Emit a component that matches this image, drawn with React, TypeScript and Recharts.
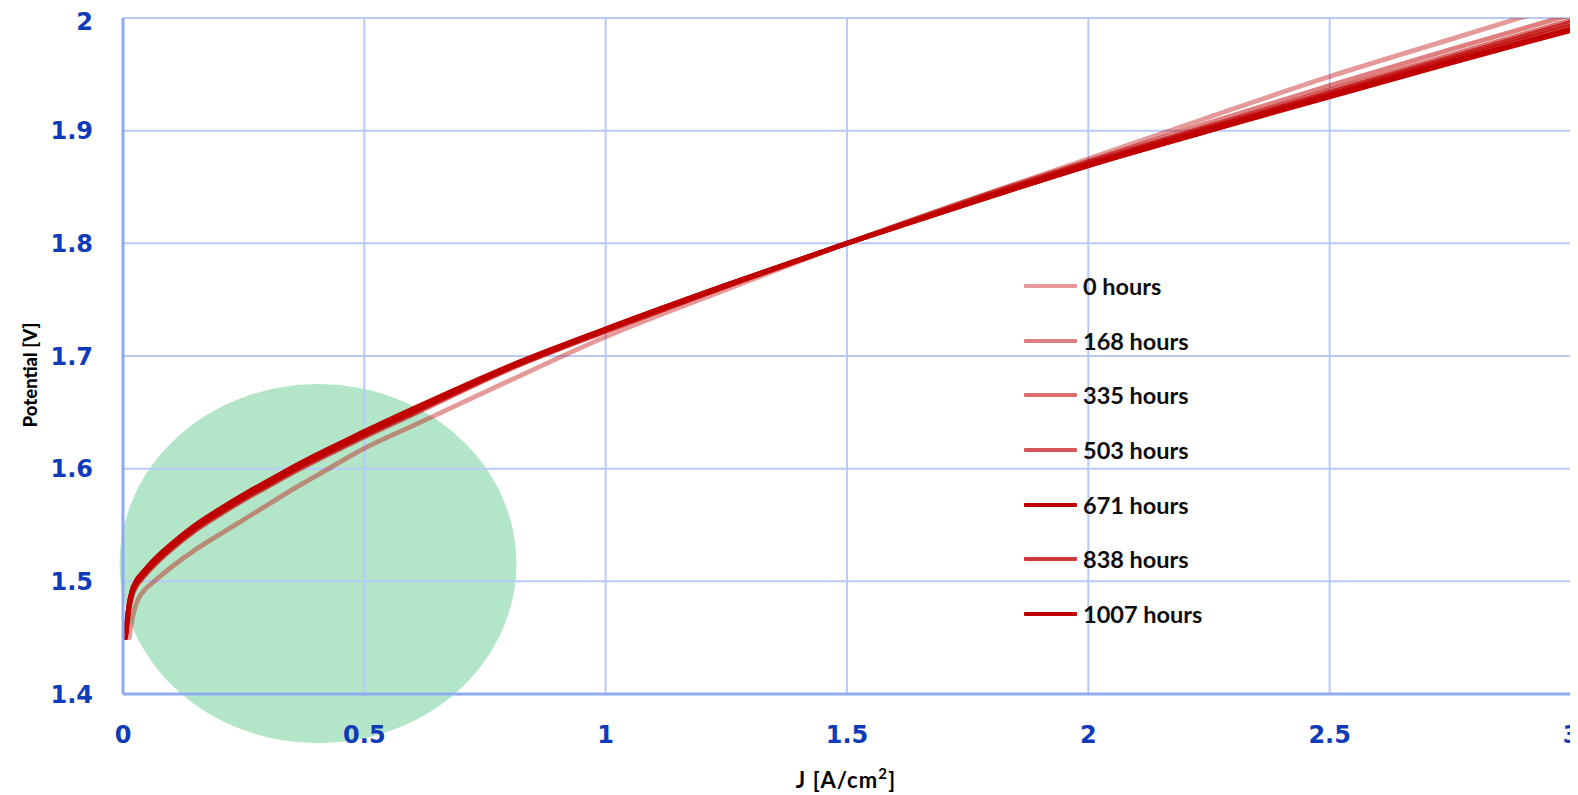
import React from 'react';
import { LineChart, Line, XAxis, YAxis, CartesianGrid, Legend, ReferenceDot } from 'recharts';

// Current density grid [A/cm²] shared by the aged curves
const J = [0.005, 0.008, 0.012, 0.018, 0.028, 0.038, 0.05, 0.075, 0.1, 0.15, 0.2, 0.25, 0.3, 0.35, 0.5, 0.6, 0.8, 1.0, 1.25, 1.5, 1.75, 2.0, 2.25, 2.5, 2.75, 3.0];
// Current density grid for the 0 hours curve
const J0 = [0.013, 0.017, 0.024, 0.032, 0.045, 0.066, 0.1, 0.15, 0.2, 0.25, 0.3, 0.35, 0.4, 0.5, 0.6, 0.8, 1.0, 1.25, 1.5, 1.75, 2.0, 2.25, 2.5, 2.75, 3.0];

// Potentials [V]
const V0 = [1.45, 1.462, 1.4755, 1.4845, 1.4925, 1.5005, 1.5125, 1.528, 1.5415, 1.5547, 1.568, 1.5812, 1.5935, 1.618, 1.638, 1.678, 1.717, 1.759, 1.8, 1.838, 1.875, 1.912, 1.948, 1.981, 2.014];
const V168 = [1.45, 1.459, 1.4735, 1.486, 1.496, 1.5015, 1.5075, 1.5185, 1.528, 1.545, 1.559, 1.572, 1.584, 1.596, 1.628, 1.648, 1.688, 1.722, 1.762, 1.8, 1.838, 1.873, 1.907, 1.94, 1.972, 2.003];
const V335 = [1.45, 1.46, 1.4745, 1.487, 1.497, 1.5025, 1.5085, 1.5195, 1.529, 1.546, 1.56, 1.573, 1.585, 1.597, 1.629, 1.649, 1.689, 1.722, 1.762, 1.8, 1.837, 1.872, 1.904, 1.936, 1.967, 1.998];
const V503 = [1.45, 1.461, 1.4755, 1.488, 1.498, 1.5035, 1.5095, 1.5205, 1.53, 1.547, 1.561, 1.574, 1.586, 1.598, 1.63, 1.65, 1.689, 1.723, 1.762, 1.8, 1.836, 1.871, 1.903, 1.934, 1.965, 1.996];
const V671 = [1.45, 1.464, 1.4785, 1.491, 1.501, 1.5065, 1.5125, 1.5235, 1.533, 1.55, 1.564, 1.577, 1.589, 1.601, 1.633, 1.653, 1.691, 1.724, 1.763, 1.8, 1.835, 1.869, 1.9, 1.931, 1.961, 1.99];
const V838 = [1.45, 1.462, 1.4765, 1.489, 1.499, 1.5045, 1.5105, 1.5215, 1.531, 1.548, 1.562, 1.575, 1.587, 1.599, 1.631, 1.651, 1.69, 1.723, 1.763, 1.8, 1.836, 1.87, 1.902, 1.932, 1.963, 1.993];
const V1007 = [1.45, 1.463, 1.4775, 1.49, 1.5, 1.5055, 1.5115, 1.5225, 1.532, 1.549, 1.563, 1.576, 1.588, 1.6, 1.632, 1.652, 1.69, 1.724, 1.763, 1.8, 1.835, 1.869, 1.9, 1.93, 1.96, 1.989];

const SERIES_NAMES = ['0 hours', '168 hours', '335 hours', '503 hours', '671 hours', '838 hours', '1007 hours'];
const SERIES_OPACITY = [0.4, 0.5, 0.56, 0.66, 1, 0.78, 1];

const X_TICKS = [0, 0.5, 1, 1.5, 2, 2.5, 3];
const Y_TICKS = [1.4, 1.5, 1.6, 1.7, 1.8, 1.9, 2];

// Highlight ellipse in data units: centre J, centre V, half-width J, half-height V
const ELLIPSE_CJ = 0.404;
const ELLIPSE_CV = 1.5157;
const ELLIPSE_RJ = 0.411;
const ELLIPSE_RV = 0.1594;

const X_DOMAIN: [number, number] = [0, 3];
const Y_DOMAIN: [number, number] = [1.4, 2];

const CHART_W = 1570;
const CHART_H = 787;
const MARGIN = { top: 10, right: 7, bottom: 0, left: 0 };
const Y_AXIS_W = 115;
const X_AXIS_H = 101;
const PLOT_W = CHART_W - MARGIN.left - MARGIN.right - Y_AXIS_W;
const PLOT_H = CHART_H - MARGIN.top - MARGIN.bottom - X_AXIS_H;

const RED = '#c00000';
const GRID = '#b8cbf6';
const AXIS = '#8eabf2';
const TICK_COLOR = '#0f3ab8';

const build = (js: number[], vs: number[]) => js.map((j, i) => ({ j, v: vs[i] }));
const SERIES_DATA = [
  build(J0, V0),
  build(J, V168),
  build(J, V335),
  build(J, V503),
  build(J, V671),
  build(J, V838),
  build(J, V1007),
];

const EllipseShape = (props: any) => {
  const rx = (ELLIPSE_RJ / (X_DOMAIN[1] - X_DOMAIN[0])) * PLOT_W;
  const ry = (ELLIPSE_RV / (Y_DOMAIN[1] - Y_DOMAIN[0])) * PLOT_H;
  return <ellipse cx={props.cx} cy={props.cy} rx={rx} ry={ry} fill="#b3e6c9" stroke="none" />;
};

const YTitle = (props: any) => {
  const vb = props.viewBox || { x: 0, y: 0, width: 0, height: 0 };
  const cx = vb.x + 22;
  const cy = vb.y + vb.height / 2 + 19;
  return (
    <text
      x={cx}
      y={cy}
      transform={`rotate(-90 ${cx} ${cy})`}
      textAnchor="middle"
      dominantBaseline="central"
      style={{ fontFamily: 'Lato', fontWeight: 900, fontSize: 18.5, fill: '#000' }}
    >
      Potential [V]
    </text>
  );
};

const XTitle = (props: any) => {
  const vb = props.viewBox || { x: 0, y: 0, width: 0, height: 0 };
  const cx = vb.x + vb.width / 2 - 1;
  const cy = vb.y + 85;
  return (
    <text
      x={cx}
      y={cy}
      textAnchor="middle"
      dominantBaseline="central"
      style={{ fontFamily: 'Lato', fontWeight: 700, fontSize: 22, fill: '#000', letterSpacing: 1.1 }}
    >
      J [A/cm
      <tspan dy={-6} style={{ fontSize: 15 }}>2</tspan>
      <tspan dy={6}>]</tspan>
    </text>
  );
};

const LegendContent = (props: any) => {
  const payload = [...(props.payload || [])].sort(
    (a: any, b: any) => SERIES_NAMES.indexOf(a.value) - SERIES_NAMES.indexOf(b.value)
  );
  return (
    <div style={{ display: 'flex', flexDirection: 'column' }}>
      {payload.map((p: any, i: number) => (
        <div key={i} style={{ display: 'flex', alignItems: 'center', height: 54.7 }}>
          <div
            style={{
              width: 53,
              height: 4,
              background: RED,
              opacity: SERIES_OPACITY[SERIES_NAMES.indexOf(p.value)],
              marginRight: 6,
              borderRadius: 1,
            }}
          />
          <span style={{ fontFamily: 'Lato', fontWeight: 700, fontSize: 23.5, color: '#0d0d0d', whiteSpace: 'nowrap' }}>
            {p.value}
          </span>
        </div>
      ))}
    </div>
  );
};

export default function App() {
  return (
    <div style={{ width: CHART_W, height: CHART_H }}>
      <LineChart width={CHART_W} height={CHART_H} margin={MARGIN}>
        <ReferenceDot
          x={ELLIPSE_CJ}
          y={ELLIPSE_CV}
          r={1}
          ifOverflow="visible"
          shape={EllipseShape}
          {...({ zIndex: -200 } as any)}
        />
        <CartesianGrid stroke={GRID} strokeWidth={2} />
        <XAxis
          dataKey="j"
          type="number"
          domain={X_DOMAIN}
          ticks={X_TICKS}
          allowDuplicatedCategory={false}
          height={X_AXIS_H}
          stroke={AXIS}
          strokeWidth={3}
          tickLine={false}
          tickSize={0}
          tickMargin={32}
          tick={{ fill: TICK_COLOR, fontFamily: 'DejaVu Sans', fontWeight: 700, fontSize: 24 }}
          label={<XTitle />}
        />
        <YAxis
          dataKey="v"
          type="number"
          domain={Y_DOMAIN}
          ticks={Y_TICKS}
          allowDataOverflow
          width={Y_AXIS_W}
          stroke={AXIS}
          strokeWidth={3}
          tickLine={false}
          tickSize={0}
          tickMargin={30}
          tick={{ fill: TICK_COLOR, fontFamily: 'DejaVu Sans', fontWeight: 700, fontSize: 24 }}
          label={<YTitle />}
        />
        {SERIES_DATA.map((d, i) => (
          <Line
            key={SERIES_NAMES[i]}
            data={d}
            dataKey="v"
            name={SERIES_NAMES[i]}
            type="monotone"
            stroke={RED}
            strokeOpacity={SERIES_OPACITY[i]}
            strokeWidth={4.8}
            strokeLinecap="round"
            dot={false}
            activeDot={false}
            isAnimationActive={false}
          />
        ))}
        <Legend
          layout="vertical"
          align="center"
          verticalAlign="middle"
          content={<LegendContent />}
          wrapperStyle={{ position: 'absolute', left: 1016, top: 250.6, width: 'auto', height: 'auto' }}
        />
      </LineChart>
    </div>
  );
}
